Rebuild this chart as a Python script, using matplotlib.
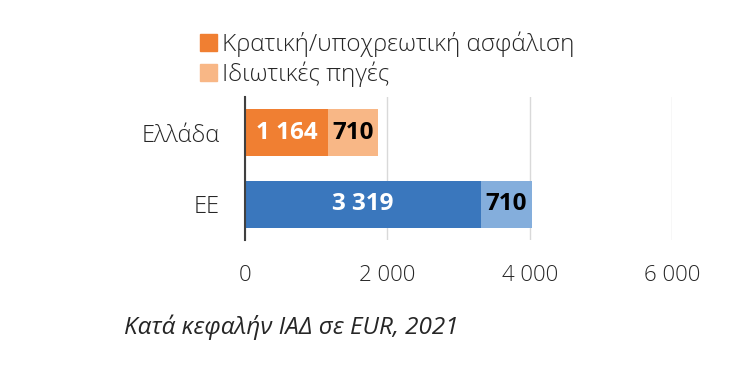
import matplotlib
matplotlib.use("Agg")
import matplotlib.pyplot as plt
from matplotlib.patches import Patch

# data
categories = ["Ελλάδα", "ΕΕ"]
public_vals = [1164, 3319]
private_vals = [710, 710]
series_names = ["Κρατική/υποχρεωτική ασφάλιση", "Ιδιωτικές πηγές"]
xticks = [0, 2000, 4000, 6000]
caption = "Κατά κεφαλήν ΙΑΔ σε EUR, 2021"

dark_colors = ["#F07F32", "#3A77BD"]
light_colors = ["#F8B786", "#84AEDC"]

plt.rcParams["font.family"] = ["Open Sans", "DejaVu Sans"]


def fmt(v):
    return f"{v:,}".replace(",", " ")


fig = plt.figure(figsize=(7.29, 3.71), dpi=100)
ax = fig.add_axes([0.336, 0.353, 0.586, 0.386])

ypos = list(range(len(categories)))
ax.barh(ypos, public_vals, height=0.66, color=dark_colors, zorder=2)
ax.barh(ypos, private_vals, left=public_vals, height=0.66, color=light_colors, zorder=2)

for y, pub, priv in zip(ypos, public_vals, private_vals):
    ax.text(pub / 2, y, fmt(pub), ha="center", va="center", color="white",
            fontsize=17.5, fontweight="bold", zorder=3)
    ax.text(pub + priv / 2, y, fmt(priv), ha="center", va="center", color="black",
            fontsize=17.5, fontweight="bold", zorder=3)

ax.set_xlim(0, 6000)
ax.set_ylim(1.5, -0.5)
ax.set_yticks(ypos)
ax.set_yticklabels(categories, fontsize=17, color="#262626", fontweight="light")
ax.set_xticks(xticks)
ax.set_xticklabels([fmt(t) for t in xticks], fontsize=16, color="#262626",
                   fontweight="light")
ax.tick_params(axis="both", length=0)
ax.tick_params(axis="x", pad=18)
ax.tick_params(axis="y", pad=18)
ax.xaxis.grid(True, color="#D9D9D9", linewidth=1, zorder=0)
for s in ["top", "right", "bottom"]:
    ax.spines[s].set_visible(False)
ax.spines["left"].set_color("#404040")
ax.spines["left"].set_linewidth(1.5)
ax.spines["left"].set_zorder(4)

handles = [Patch(color=dark_colors[0]), Patch(color=light_colors[0])]
fig.legend(handles, series_names, loc="upper left", bbox_to_anchor=(0.245, 0.975),
           frameon=False, prop={"size": 17.5, "weight": "light"},
           handlelength=0.7, handleheight=0.7,
           handletextpad=0.2, labelspacing=0.2, labelcolor="#262626")

fig.text(0.17, 0.118, caption, fontsize=17.5, style="italic", color="#262626",
         ha="left", va="center")

fig.savefig("out.png", dpi=100)
